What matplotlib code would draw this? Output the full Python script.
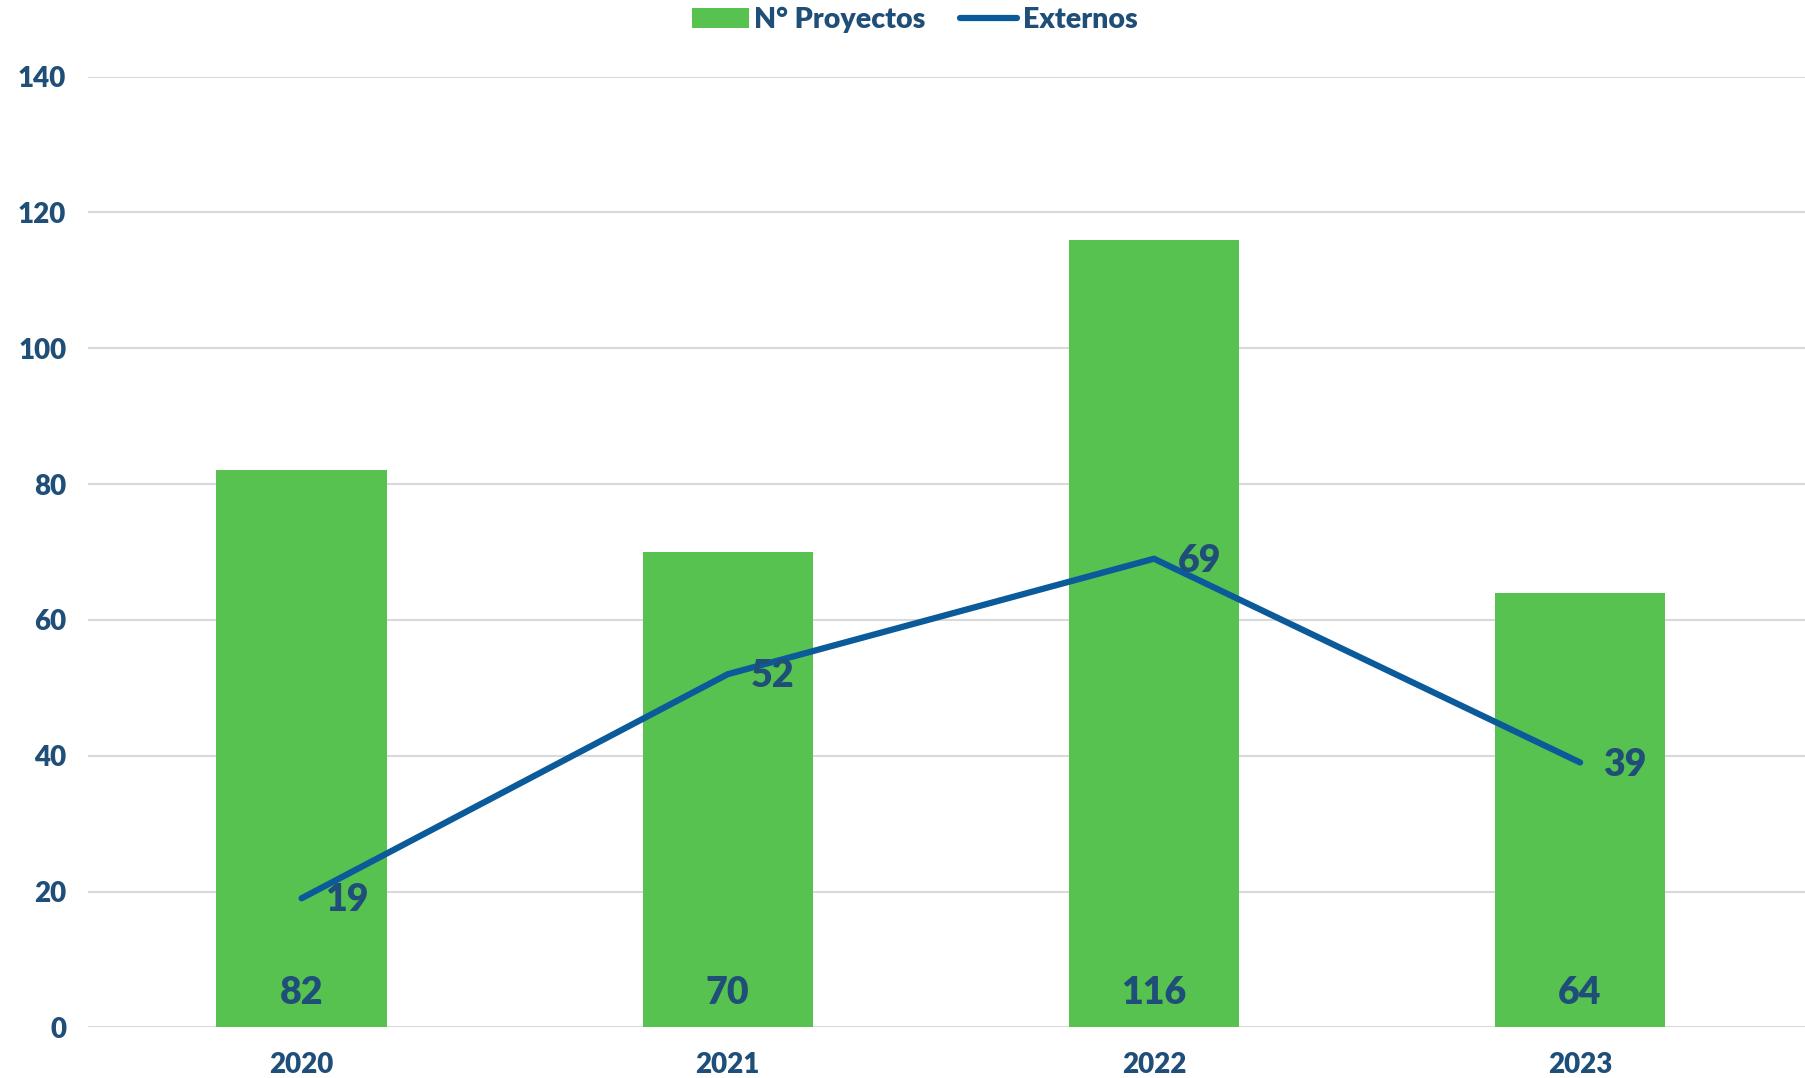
import numpy as np
import matplotlib.pyplot as plt

years = ['2020', '2021', '2022', '2023']
proyectos = [82, 70, 116, 64]
externos = [19, 52, 69, 39]

GREEN = '#57C24F'
BLUE = '#0B5A9A'
TXT = '#1F4E79'

plt.rcParams['font.family'] = ['Lato', 'DejaVu Sans']

fig = plt.figure(figsize=(18.06, 10.78), dpi=100)
ax = fig.add_axes([0.049, 0.047, 0.951, 0.882])

x = np.arange(len(years))
bars = ax.bar(x, proyectos, width=0.4, color=GREEN, label='N° Proyectos', zorder=2)
line, = ax.plot(x, externos, color=BLUE, lw=4.5, solid_capstyle='round', label='Externos', zorder=3)

for xi, v in zip(x, proyectos):
    ax.text(xi, 5, str(v), ha='center', va='center', fontsize=27, color=TXT, fontweight='heavy', zorder=4)
for xi, v in zip(x, externos):
    ax.text(xi + 0.055, v - 0.3, str(v), ha='left', va='center', fontsize=27, color=TXT, fontweight='heavy', zorder=4)

ax.set_xlim(-0.5, 3.53)
ax.set_ylim(0, 140)
ax.set_yticks(range(0, 141, 20))
ax.set_xticks(x)
ax.set_xticklabels(years)
ax.yaxis.grid(True, color='#D9D9D9', lw=1.5, zorder=0)
ax.set_axisbelow(True)
for s in ax.spines.values():
    s.set_visible(False)
ax.tick_params(length=0, labelsize=20, labelcolor=TXT, pad=16)
ax.tick_params(axis='x', pad=18)
for lbl in ax.get_xticklabels() + ax.get_yticklabels():
    lbl.set_fontweight('heavy')

leg = ax.legend([bars, line], ['N° Proyectos', 'Externos'], loc='upper center',
                bbox_to_anchor=(0.481, 1.1), ncol=2, frameon=False,
                fontsize=20.5, handlelength=2.0, handletextpad=0.2, columnspacing=1.2)
for t in leg.get_texts():
    t.set_color(TXT)
    t.set_fontweight('heavy')

fig.savefig('out.png', dpi=100)
